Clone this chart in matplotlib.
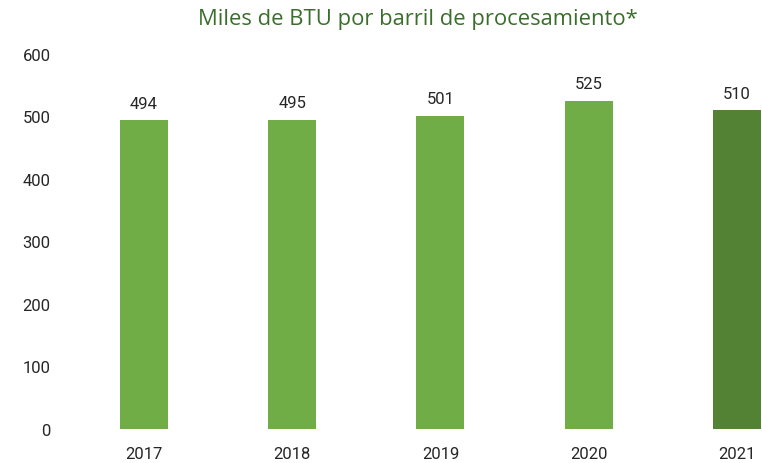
import matplotlib
matplotlib.use("Agg")
import matplotlib.pyplot as plt

years = ["2017", "2018", "2019", "2020", "2021"]
values = [494, 495, 501, 525, 510]
colors = ["#70ad47", "#70ad47", "#70ad47", "#70ad47", "#548235"]
yticks = [0, 100, 200, 300, 400, 500, 600]
title = "Miles de BTU por barril de procesamiento*"

plt.rcParams["font.family"] = ["Roboto", "DejaVu Sans"]

fig = plt.figure(figsize=(7.62, 4.64), dpi=100)
L, R, B, T = 70 / 762, 1.0, (464 - 430) / 464, (464 - 55) / 464
ax = fig.add_axes([L, B, R - L, T - B])

x = list(range(len(years)))
bars = ax.bar(x, values, width=0.324, color=colors)
for xi, v in zip(x, values):
    ax.annotate(str(v), (xi, v), xytext=(0, 7), textcoords="offset points",
                ha="center", va="bottom", fontsize=12, color="#262626")

ax.set_xlim(-0.499, 4.169)
ax.set_ylim(0, 600)
ax.set_yticks(yticks)
ax.set_yticklabels([str(t) for t in yticks])
ax.set_xticks(x)
ax.set_xticklabels(years)
ax.tick_params(axis="both", length=0, labelsize=12, colors="#262626")
ax.tick_params(axis="y", pad=14)
ax.tick_params(axis="x", pad=12)
for s in ax.spines.values():
    s.set_visible(False)

fig.text(418 / 762, 1 - 19 / 464, title, ha="center", va="center",
         fontsize=15.8, color="#3b6e2c", family=["Open Sans", "DejaVu Sans"])

fig.savefig("out.png", dpi=100)
